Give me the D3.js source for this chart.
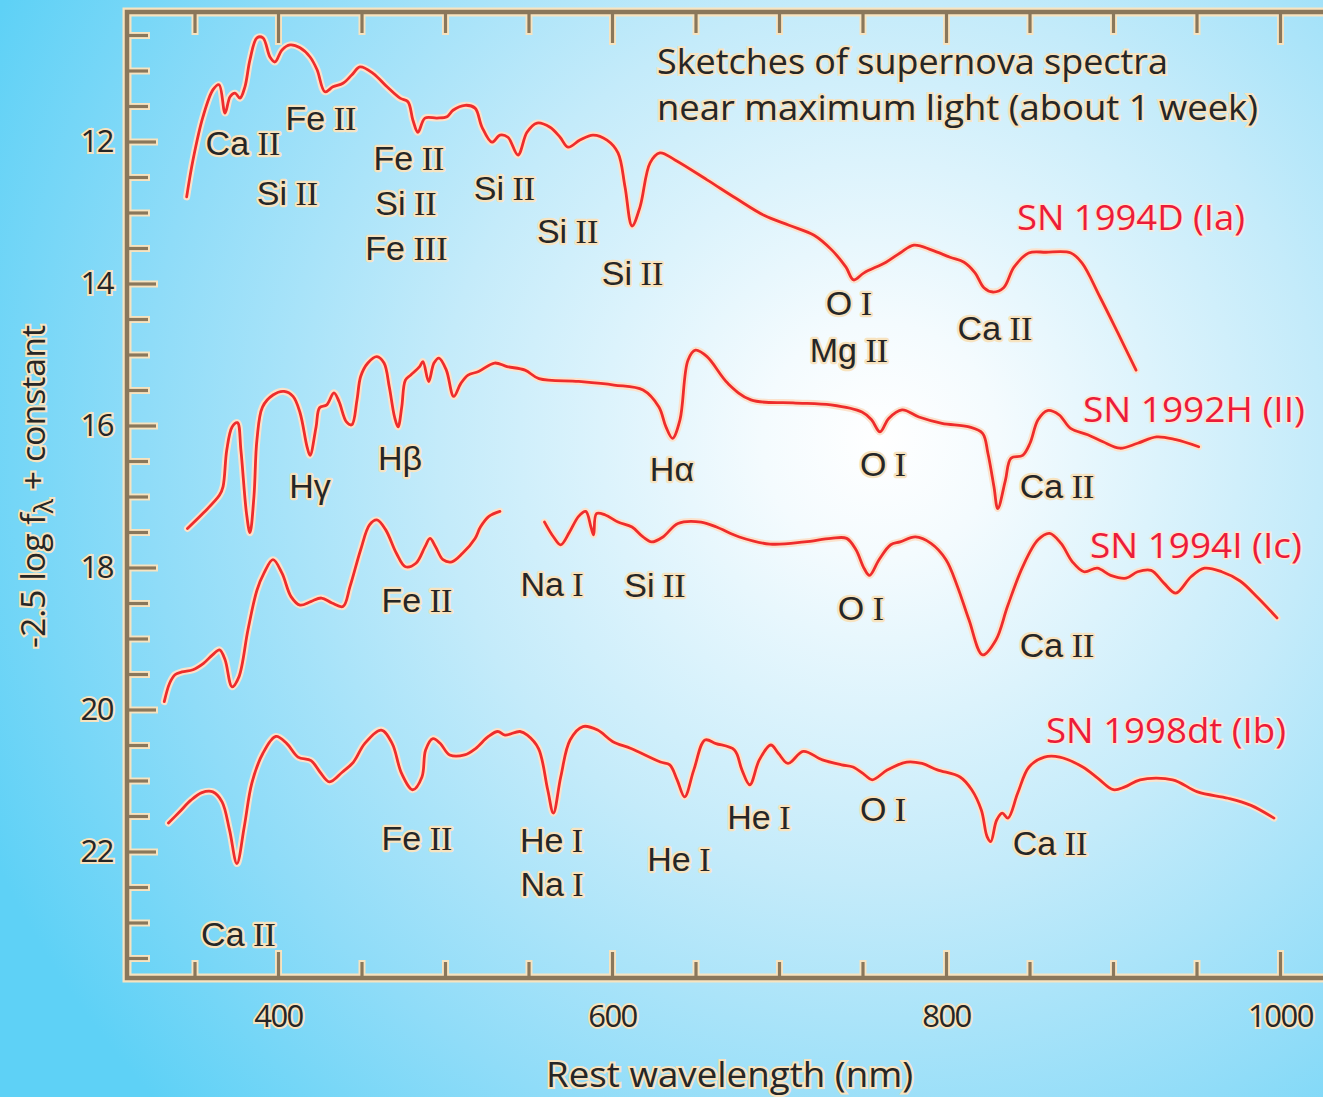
<!DOCTYPE html>
<html>
<head>
<meta charset="utf-8">
<script src="https://cdn.jsdelivr.net/npm/d3@7"></script>
<style>
  body { margin: 0; background: #ffffff; }
  svg { display: block; }
</style>
</head>
<body>
<svg id="chart" width="1323" height="1097"></svg>
<script>

// ---- data: [rest wavelength (nm), -2.5 log f + const] ----

var SN1994D = [
  [345.3,12.78],[349.1,12.26],[355.1,11.65],[361.1,11.27],[364.7,11.20],[368.3,11.60],
  [371.3,11.37],[374.3,11.32],[377.2,11.39],[380.2,11.23],[383.2,10.85],[387.4,10.54],
  [391.0,10.54],[395.2,10.81],[398.2,10.88],[402.4,10.71],[407.2,10.64],[413.2,10.68],
  [419.2,10.81],[423.4,10.99],[428.1,11.30],[432.9,11.23],[438.9,11.18],[444.3,11.06],
  [449.1,10.95],[456.9,11.04],[465.3,11.23],[473.1,11.39],[477.8,11.44],[480.8,11.70],
  [483.8,11.87],[488.0,11.67],[495.2,11.67],[501.2,11.65],[504.8,11.56],[512.0,11.49],
  [518.0,11.53],[522.2,11.80],[528.1,12.01],[532.9,11.91],[537.7,11.94],[543.7,12.19],
  [549.1,11.87],[555.1,11.74],[562.9,11.80],[568.9,11.94],[573.7,12.08],[580.8,11.98],
  [588.6,11.91],[597.0,11.98],[603.6,12.16],[607.8,12.64],[612.0,13.19],[616.8,12.92],
  [622.8,12.30],[628.7,12.16],[637.7,12.26],[656.9,12.54],[674.2,12.80],[691.0,13.04],
  [706.0,13.18],[721.0,13.32],[731.7,13.53],[740.1,13.77],[744.7,13.95],[750.9,13.85],
  [764.1,13.70],[772.5,13.57],[780.8,13.46],[791.6,13.53],[802.4,13.63],[810.8,13.70],
  [817.4,13.85],[822.7,14.06],[828.1,14.12],[834.5,14.06],[840.7,13.77],[849.5,13.57],
  [859.9,13.56],[874.8,13.57],[881.4,13.71],[892.2,14.19],[903.0,14.70],[913.8,15.22]
];

var SN1992H = [
  [345.8,17.45],[355.4,17.23],[365.0,16.98],[367.1,16.86],[369.3,16.35],[372.5,16.02],
  [375.7,15.96],[377.8,16.35],[381.1,17.23],[383.2,17.51],[385.6,17.00],[387.4,16.20],
  [390.7,15.74],[397.0,15.57],[403.6,15.52],[409.0,15.59],[413.2,15.82],[417.4,16.30],
  [419.2,16.42],[422.8,16.02],[424.9,15.75],[429.2,15.71],[433.5,15.54],[436.5,15.66],
  [441.0,15.95],[444.2,15.99],[447.3,15.64],[449.5,15.31],[453.8,15.12],[459.2,15.03],
  [463.5,15.12],[466.6,15.45],[469.8,15.88],[471.9,16.02],[474.1,15.74],[476.3,15.36],
  [479.5,15.29],[484.8,15.17],[486.8,15.10],[490.2,15.38],[493.4,15.12],[496.4,15.05],
  [500.8,15.22],[505.2,15.59],[509.4,15.41],[513.8,15.29],[520.1,15.24],[529.7,15.12],
  [537.1,15.17],[547.9,15.22],[556.3,15.34],[580.0,15.38],[601.2,15.43],[618.6,15.50],
  [628.1,15.74],[632.3,16.02],[636.2,16.18],[640.7,15.92],[645.5,15.08],[650.0,14.94],
  [656.9,15.03],[669.5,15.41],[683.2,15.64],[708.4,15.68],[731.1,15.71],[749.7,15.81],
  [755.4,15.92],[760.5,16.09],[765.7,15.90],[773.7,15.78],[783.8,15.88],[797.6,15.97],
  [813.8,16.02],[821.9,16.11],[825.1,16.39],[828.7,16.86],[831.0,17.17],[835.6,16.77],
  [838.9,16.46],[845.9,16.42],[850.3,16.25],[855.1,15.92],[860.8,15.79],[867.7,15.85],
  [874.6,16.04],[884.9,16.13],[894.0,16.23],[904.2,16.32],[914.7,16.25],[926.1,16.16],
  [937.6,16.20],[951.3,16.30]
];

// null marks the break in the SN 1994I sketch
var SN1994I = [
  [331.9,19.89],[335.1,19.63],[338.3,19.51],[342.5,19.47],[349.1,19.44],[355.4,19.35],
  [360.8,19.23],[365.0,19.16],[368.3,19.30],[372.5,19.68],[376.6,19.54],[382.0,18.88],
  [387.4,18.32],[391.6,18.08],[397.0,17.89],[402.4,18.08],[407.8,18.41],[413.2,18.53],
  [419.6,18.48],[426.0,18.43],[432.3,18.50],[438.9,18.55],[443.1,18.27],[449.5,17.75],
  [454.8,17.40],[459.2,17.33],[464.5,17.47],[470.9,17.80],[476.3,17.99],[482.6,17.94],
  [488.0,17.71],[491.0,17.59],[494.4,17.71],[498.8,17.89],[504.1,17.92],[510.5,17.80],
  [518.0,17.59],[521.2,17.43],[526.3,17.28],[532.9,17.21],[546.0,null],
  [559.6,17.36],[565.0,17.57],[569.3,17.68],[574.6,17.50],[580.0,17.28],[584.3,17.21],
  [587.4,17.43],[589.0,17.54],[590.7,17.24],[596.0,17.26],[603.6,17.36],[612.0,17.43],
  [618.6,17.57],[623.7,17.64],[630.5,17.57],[639.5,17.38],[653.3,17.36],[662.6,17.43],
  [676.3,17.57],[694.6,17.67],[715.3,17.64],[731.1,17.59],[740.5,17.59],[746.1,17.75],
  [750.9,18.01],[754.2,18.11],[759.9,17.89],[766.9,17.68],[772.5,17.64],[781.7,17.57],
  [791.0,17.66],[800.0,17.89],[806.9,18.27],[813.8,18.74],[821.9,19.23],[829.9,19.02],
  [836.8,18.55],[845.9,17.99],[855.1,17.61],[862.0,17.52],[868.9,17.66],[875.7,17.92],
  [882.6,18.06],[890.6,18.01],[898.6,18.11],[907.8,18.15],[914.7,18.06],[922.8,18.04],
  [930.5,18.22],[937.6,18.36],[946.7,18.13],[954.8,18.01],[965.1,18.06],[976.1,18.19],
  [986.9,18.43],[998.2,18.71]
];

var SN1998DT = [
  [334.4,21.60],[341.1,21.44],[347.7,21.28],[354.4,21.17],[361.0,21.16],[366.5,21.30],
  [371.0,21.70],[375.4,22.17],[379.8,21.65],[384.3,21.04],[390.9,20.62],[398.7,20.38],
  [405.3,20.48],[412.0,20.67],[419.8,20.72],[425.1,20.88],[430.8,21.02],[438.6,20.88],
  [445.2,20.74],[451.9,20.48],[461.8,20.29],[468.4,20.48],[474.0,20.90],[480.7,21.13],
  [486.2,20.95],[488.4,20.57],[492.8,20.41],[497.2,20.48],[502.8,20.64],[511.7,20.64],
  [518.3,20.55],[526.0,20.38],[531.6,20.31],[535.9,20.36],[544.9,20.31],[549.3,20.36],
  [556.0,20.55],[561.5,21.13],[564.9,21.46],[569.3,20.95],[574.9,20.43],[582.6,20.24],
  [591.4,20.29],[600.3,20.45],[611.4,20.55],[629.0,20.74],[634.6,20.78],[639.0,20.99],
  [643.5,21.23],[649.0,20.85],[655.7,20.43],[662.3,20.48],[673.3,20.57],[677.8,20.85],
  [682.5,21.06],[688.2,20.71],[695.1,20.50],[699.7,20.62],[705.4,20.76],[714.5,20.59],
  [726.0,20.71],[737.5,20.78],[744.3,20.81],[751.3,20.92],[755.8,20.99],[765.0,20.85],
  [776.5,20.74],[785.6,20.76],[794.8,20.85],[808.4,20.95],[815.4,21.13],[821.2,21.42],
  [824.6,21.79],[826.8,21.86],[830.3,21.56],[833.7,21.46],[837.1,21.53],[842.9,21.18],
  [849.7,20.81],[858.9,20.67],[868.1,20.67],[881.9,20.81],[891.0,20.97],[900.2,21.13],
  [907.1,21.09],[916.2,20.99],[935.7,20.99],[950.6,21.16],[968.9,21.25],[982.6,21.35],
  [996.4,21.53]
];

var SPECTRA = [SN1994D, SN1992H, SN1994I, SN1998DT];

// supernova names, anchored at the start of the text
var SN_NAMES = ["SN 1994D (Ia)", "SN 1992H (II)", "SN 1994I (Ic)", "SN 1998dt (Ib)"];
var SN_NAME_WAVE = [842.5, 882.0, 886.2, 859.9];
var SN_NAME_MAG  = [13.25, 15.95, 17.87, 20.47];

// line identifications: [element, ionisation, wavelength, magnitude] (centre, baseline)
var LINE_IDS = [
  ["Ca", "II", 379.0, 12.19], ["Fe", "II", 425.7, 11.84], ["Si", "II", 405.7, 12.89],
  ["Fe", "II", 478.4, 12.40], ["Si", "II", 476.6, 13.04], ["Fe", "III", 476.9, 13.67],
  ["Si", "II", 535.6, 12.82], ["Si", "II", 573.4, 13.43], ["Si", "II", 612.3, 14.02],
  ["O", "I", 741.9, 14.44], ["Mg", "II", 741.9, 15.11], ["Ca", "II", 829.3, 14.80],
  ["H\u03b3", "", 419.2, 17.02], ["H\u03b2", "", 473.1, 16.63], ["H\u03b1", "", 635.9, 16.78],
  ["O", "I", 762.3, 16.71], ["Ca", "II", 866.5, 17.02],
  ["Fe", "II", 483.2, 18.63], ["Na", "I", 564.1, 18.40], ["Si", "II", 625.7, 18.42],
  ["O", "I", 749.1, 18.74], ["Ca", "II", 866.5, 19.26],
  ["Ca", "II", 376.3, 23.33], ["Fe", "II", 483.2, 21.98], ["He", "I", 563.8, 22.01],
  ["Na", "I", 564.1, 22.63], ["He", "I", 640.1, 22.28], ["He", "I", 688.0, 21.68],
  ["O", "I", 762.3, 21.57], ["Ca", "II", 862.3, 22.05]
];

var X_MAJOR = [400, 600, 800, 1000];
var X_MINOR = [350, 450, 500, 550, 650, 700, 750, 850, 900, 950];
var Y_MAJOR = [12, 14, 16, 18, 20, 22];
var Y_MINOR = [10.5, 11, 11.5, 12.5, 13, 13.5, 14.5, 15, 15.5, 16.5, 17, 17.5,
               18.5, 19, 19.5, 20.5, 21, 21.5, 22.5, 23, 23.5];

// ---- layout ----
var WIDTH = 1323, HEIGHT = 1097;
var LEFT = 127, TOP = 12, BOTTOM = 978, RIGHT = 1330;

var SANS = "'Liberation Sans', Arial, sans-serif";
var SERIF = "'Liberation Serif', 'Times New Roman', serif";
var MYRIAD = "'Open Sans', Lato, sans-serif";

var AXIS_COLOR = "#8a775b";
var HALO = "#f7e3bf";
var LINE_RED = "#ee2c2c";
var LABEL_RED = "#ec1c3a";
var INK = "#262626";

var svg = d3.select("#chart");

// background
var grad = svg.append("defs").append("radialGradient")
  .attr("id", "bg")
  .attr("gradientUnits", "userSpaceOnUse")
  .attr("cx", 880).attr("cy", 440).attr("r", 980);
grad.append("stop").attr("offset", 0).attr("stop-color", "#ffffff");
grad.append("stop").attr("offset", 0.12).attr("stop-color", "#f4fbfe");
grad.append("stop").attr("offset", 0.45).attr("stop-color", "#c4ebfa");
grad.append("stop").attr("offset", 0.75).attr("stop-color", "#8fdcf8");
grad.append("stop").attr("offset", 1).attr("stop-color", "#5ed1f6");

svg.append("rect")
  .attr("width", WIDTH).attr("height", HEIGHT)
  .attr("fill", "url(#bg)");

var x = d3.scaleLinear().domain([400, 1000]).range([278, 1280]);
var y = d3.scaleLinear().domain([12, 22]).range([141.5, 851.5]);


// tick marks drawn by d3 axes, once as a pale halo and once in brown
function tickLayer(axisFn, scale, values, size, transform, color, width)
{
  var g = svg.append("g")
    .attr("transform", transform)
    .call(axisFn(scale).tickValues(values).tickSize(size).tickSizeOuter(0).tickFormat(""));
  g.select(".domain").remove();
  g.selectAll(".tick line")
    .attr("stroke", color)
    .attr("stroke-width", width);
  return g;
}

function ticks(color, width, ext)
{
  tickLayer(d3.axisTop, x, X_MINOR, 16 + ext, "translate(0," + BOTTOM + ")", color, width);
  tickLayer(d3.axisTop, x, X_MAJOR, 26 + ext, "translate(0," + BOTTOM + ")", color, width);
  tickLayer(d3.axisBottom, x, X_MINOR, 21 + ext, "translate(0," + TOP + ")", color, width);
  tickLayer(d3.axisBottom, x, X_MAJOR, 31 + ext, "translate(0," + TOP + ")", color, width);
  tickLayer(d3.axisRight, y, Y_MINOR, 21 + ext, "translate(" + LEFT + ",0)", color, width);
  tickLayer(d3.axisRight, y, Y_MAJOR, 29 + ext, "translate(" + LEFT + ",0)", color, width);
}

var framePath = "M" + RIGHT + "," + TOP + "H" + LEFT + "V" + BOTTOM + "H" + RIGHT;

svg.append("path").attr("d", framePath)
  .attr("fill", "none").attr("stroke", HALO).attr("stroke-width", 9);
ticks(HALO, 7, 2);
svg.append("path").attr("d", framePath)
  .attr("fill", "none").attr("stroke", AXIS_COLOR).attr("stroke-width", 4.5)
  .attr("stroke-linejoin", "miter");
ticks(AXIS_COLOR, 3.2, 0);


// tick labels
function styleLabels(g, size)
{
  g.select(".domain").remove();
  g.selectAll("text")
    .attr("font-family", MYRIAD)
    .attr("font-size", size)
    .attr("fill", INK)
    .attr("stroke", HALO)
    .attr("stroke-width", 4)
    .attr("paint-order", "stroke")
    .attr("letter-spacing", -1.5);
}

var xLab = svg.append("g")
  .attr("transform", "translate(0," + BOTTOM + ")")
  .call(d3.axisBottom(x).tickValues(X_MAJOR).tickFormat(d3.format("d")).tickSize(0).tickPadding(27));
styleLabels(xLab, 31);

var yLab = svg.append("g")
  .attr("transform", "translate(" + LEFT + ",0)")
  .call(d3.axisLeft(y).tickValues(Y_MAJOR).tickFormat(d3.format("d")).tickSize(0).tickPadding(14));
styleLabels(yLab, 31);


// spectra
var line = d3.line()
  .defined(function(d) { return d[1] != null; })
  .x(function(d) { return x(d[0]); })
  .y(function(d) { return y(d[1]); })
  .curve(d3.curveCatmullRom.alpha(0.5));

var spec = svg.append("g");
spec.selectAll("path.halo")
  .data(SPECTRA).enter()
  .append("path")
  .attr("class", "halo")
  .attr("d", line)
  .attr("fill", "none")
  .attr("stroke", "#fbe2cc")
  .attr("stroke-width", 7)
  .attr("stroke-linejoin", "round")
  .attr("stroke-linecap", "round");
spec.selectAll("path.spec")
  .data(SPECTRA).enter()
  .append("path")
  .attr("class", "spec")
  .attr("d", line)
  .attr("fill", "none")
  .attr("stroke", LINE_RED)
  .attr("stroke-width", 2.8)
  .attr("stroke-linejoin", "round")
  .attr("stroke-linecap", "round");


// line identifications
var ids = svg.append("g")
  .attr("font-size", 34)
  .attr("fill", INK)
  .attr("stroke", HALO)
  .attr("stroke-width", 4.5)
  .attr("paint-order", "stroke")
  .attr("stroke-linejoin", "round");

LINE_IDS.forEach(function(d) {
  var t = ids.append("text")
    .attr("x", x(d[2]))
    .attr("y", y(d[3]))
    .attr("text-anchor", "middle");
  t.append("tspan").attr("font-family", SANS).text(d[0]);
  if (d[1])
  {
    t.append("tspan").attr("font-family", SERIF).text(" " + d[1]);
  }
});


// supernova names
var NAME_WIDTHS = [228, 222, 212, 240];
svg.append("g").selectAll("text")
  .data(SN_NAMES).enter()
  .append("text")
  .attr("x", function(d, i) { return x(SN_NAME_WAVE[i]); })
  .attr("y", function(d, i) { return y(SN_NAME_MAG[i]); })
  .attr("font-family", MYRIAD)
  .attr("font-size", 35)
  .attr("fill", LABEL_RED)
  .attr("stroke", "#fae7d6")
  .attr("stroke-width", 3)
  .attr("paint-order", "stroke")
  .attr("textLength", function(d, i) { return NAME_WIDTHS[i]; })
  .attr("lengthAdjust", "spacingAndGlyphs")
  .text(function(d) { return d; });


// title and axis titles
function plainText(str, px, py, len, anchor)
{
  return svg.append("text")
    .attr("x", px).attr("y", py)
    .attr("text-anchor", anchor || "start")
    .attr("font-family", MYRIAD)
    .attr("font-size", 34)
    .attr("fill", INK)
    .attr("stroke", HALO)
    .attr("stroke-width", 4)
    .attr("paint-order", "stroke")
    .attr("textLength", len)
    .attr("lengthAdjust", "spacingAndGlyphs")
    .text(str);
}

plainText("Sketches of supernova spectra", 657, 74, 511);
plainText("near maximum light (about 1 week)", 657, 120, 601);
plainText("Rest wavelength (nm)", 546, 1087, 367);

var yTitle = svg.append("text")
  .attr("transform", "translate(45,648) rotate(-90)")
  .attr("font-family", MYRIAD)
  .attr("font-size", 33)
  .attr("fill", INK)
  .attr("stroke", HALO)
  .attr("stroke-width", 4)
  .attr("paint-order", "stroke")
  .attr("textLength", 323)
  .attr("lengthAdjust", "spacingAndGlyphs");
yTitle.append("tspan").text("-2.5 log f");
yTitle.append("tspan").attr("dy", 8).attr("font-size", 26).text("\u03bb");
yTitle.append("tspan").attr("dy", -8).text(" + constant");

</script>
</body>
</html>
